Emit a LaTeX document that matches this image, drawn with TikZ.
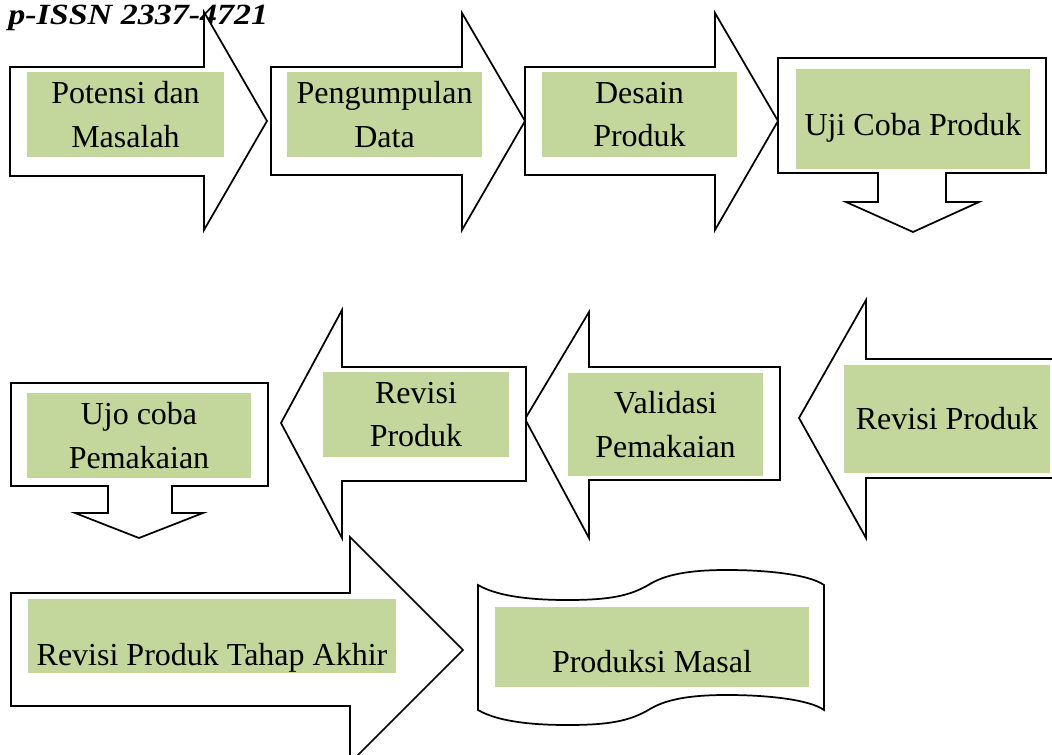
\documentclass[tikz,border=0pt]{standalone}
\usepackage{fontspec}
\setmainfont{Liberation Serif}
\usepackage{tikz}
\definecolor{boxgreen}{RGB}{195,214,155}

\begin{document}
\begin{tikzpicture}[x=0.75pt,y=0.75pt,yscale=-1,xscale=1,
  outline/.style={draw=black,line width=1.3pt,fill=white,line join=miter},
  greenbox/.style={fill=boxgreen,inner sep=0pt,align=center,
    font=\fontsize{24}{32.5}\selectfont}]
\clip (0,0) rectangle (1052,755);

% Text Node
\node[anchor=base west,inner sep=0pt,font=\fontsize{22}{26}\selectfont\bfseries\itshape] (issn) at (8,25) {\scalebox{1.16}[1]{p-ISSN 2337-4721}};

%Shape: Right Arrow [id:potensi]
\draw[outline] (10,67) -- (204,67) -- (204,12) -- (267,121) -- (204,230) -- (204,176) -- (10,176) -- cycle ;
%Shape: Right Arrow [id:kumpul]
\draw[outline] (271,67) -- (462,67) -- (462,13) -- (525,121) -- (462,230) -- (462,175) -- (271,175) -- cycle ;
%Shape: Right Arrow [id:desain]
\draw[outline] (525,67) -- (715,67) -- (715,13) -- (778,121) -- (715,230) -- (715,175) -- (525,175) -- cycle ;
%Shape: Down Arrow Callout [id:uji]
\draw[outline] (778,58) -- (1046,58) -- (1046,173) -- (946,173) -- (946,202) -- (979,202) -- (913,232) -- (846,202) -- (878,202) -- (878,173) -- (778,173) -- cycle ;

%Shape: Left Arrow [id:revisikanan]
\draw[outline] (1060,359) -- (866,359) -- (866,300) -- (799,418) -- (866,538) -- (866,478) -- (1060,478) ;
%Shape: Left Arrow [id:validasi]
\draw[outline] (780,367) -- (589,367) -- (589,312) -- (525,419) -- (589,538) -- (589,480) -- (780,480) -- cycle ;
%Shape: Left Arrow [id:revisi]
\draw[outline] (526,367) -- (342,367) -- (342,310) -- (281,423) -- (342,538) -- (342,481) -- (526,481) -- cycle ;
%Shape: Down Arrow Callout [id:ujo]
\draw[outline] (11,383) -- (268,383) -- (268,486) -- (172,486) -- (172,513) -- (203,513) -- (139,538) -- (75,513) -- (108,513) -- (108,486) -- (11,486) -- cycle ;

%Shape: Right Arrow [id:akhir]
\draw[outline] (11,593) -- (350,593) -- (350,537) -- (463,650) -- (350,763) -- (350,706) -- (11,706) -- cycle ;
%Shape: Wave [id:masal]
\draw[outline] (478,585) .. controls (500,598) and (540,600) .. (567,600) .. controls (610,600) and (630,596) .. (650,584) .. controls (670,572) and (700,570) .. (727,570) .. controls (770,570) and (810,575) .. (824,585) -- (824,710) .. controls (810,700) and (770,695) .. (727,695) .. controls (700,695) and (670,697) .. (650,709) .. controls (630,721) and (610,725) .. (567,725) .. controls (540,725) and (500,723) .. (478,710) -- cycle ;

% Text Node
\node[greenbox,minimum width=147.75pt,minimum height=63.75pt] (pot) at (125.5,114.5) {Potensi dan\\Masalah};
% Text Node
\node[greenbox,minimum width=146.25pt,minimum height=63.75pt] (kumpul) at (384.5,114.5) {Pengumpulan\\Data};
% Text Node
\node[greenbox,minimum width=146.25pt,minimum height=63.75pt] (desain) at (639.5,114.5) {Desain\\Produk};
% Text Node
\node[greenbox,anchor=base,minimum width=175.5pt,text height=50.25pt,text depth=24.75pt] (uji) at (913,136) {Uji Coba Produk};
% Text Node
\node[greenbox,minimum width=154.5pt,minimum height=81pt] (revkanan) at (947,419) {Revisi Produk};
% Text Node
\node[greenbox,minimum width=146.25pt,minimum height=77.25pt] (valid) at (665.5,424.5) {Validasi\\Pemakaian};
% Text Node
\node[greenbox,minimum width=139.5pt,minimum height=63.75pt] (revisi) at (416,414.5) {Revisi\\Produk};
% Text Node
\node[greenbox,minimum width=168pt,minimum height=63.75pt] (ujo) at (139,435.5) {Ujo coba\\Pemakaian};
% Text Node
\node[greenbox,anchor=base,minimum width=276pt,text height=49.5pt,text depth=6pt] (akhir) at (212,665) {Revisi Produk Tahap Akhir};
% Text Node
\node[greenbox,anchor=base,minimum width=235.5pt,text height=48.75pt,text depth=11.25pt] (masal) at (652,672) {Produksi Masal};

\end{tikzpicture}
\end{document}
